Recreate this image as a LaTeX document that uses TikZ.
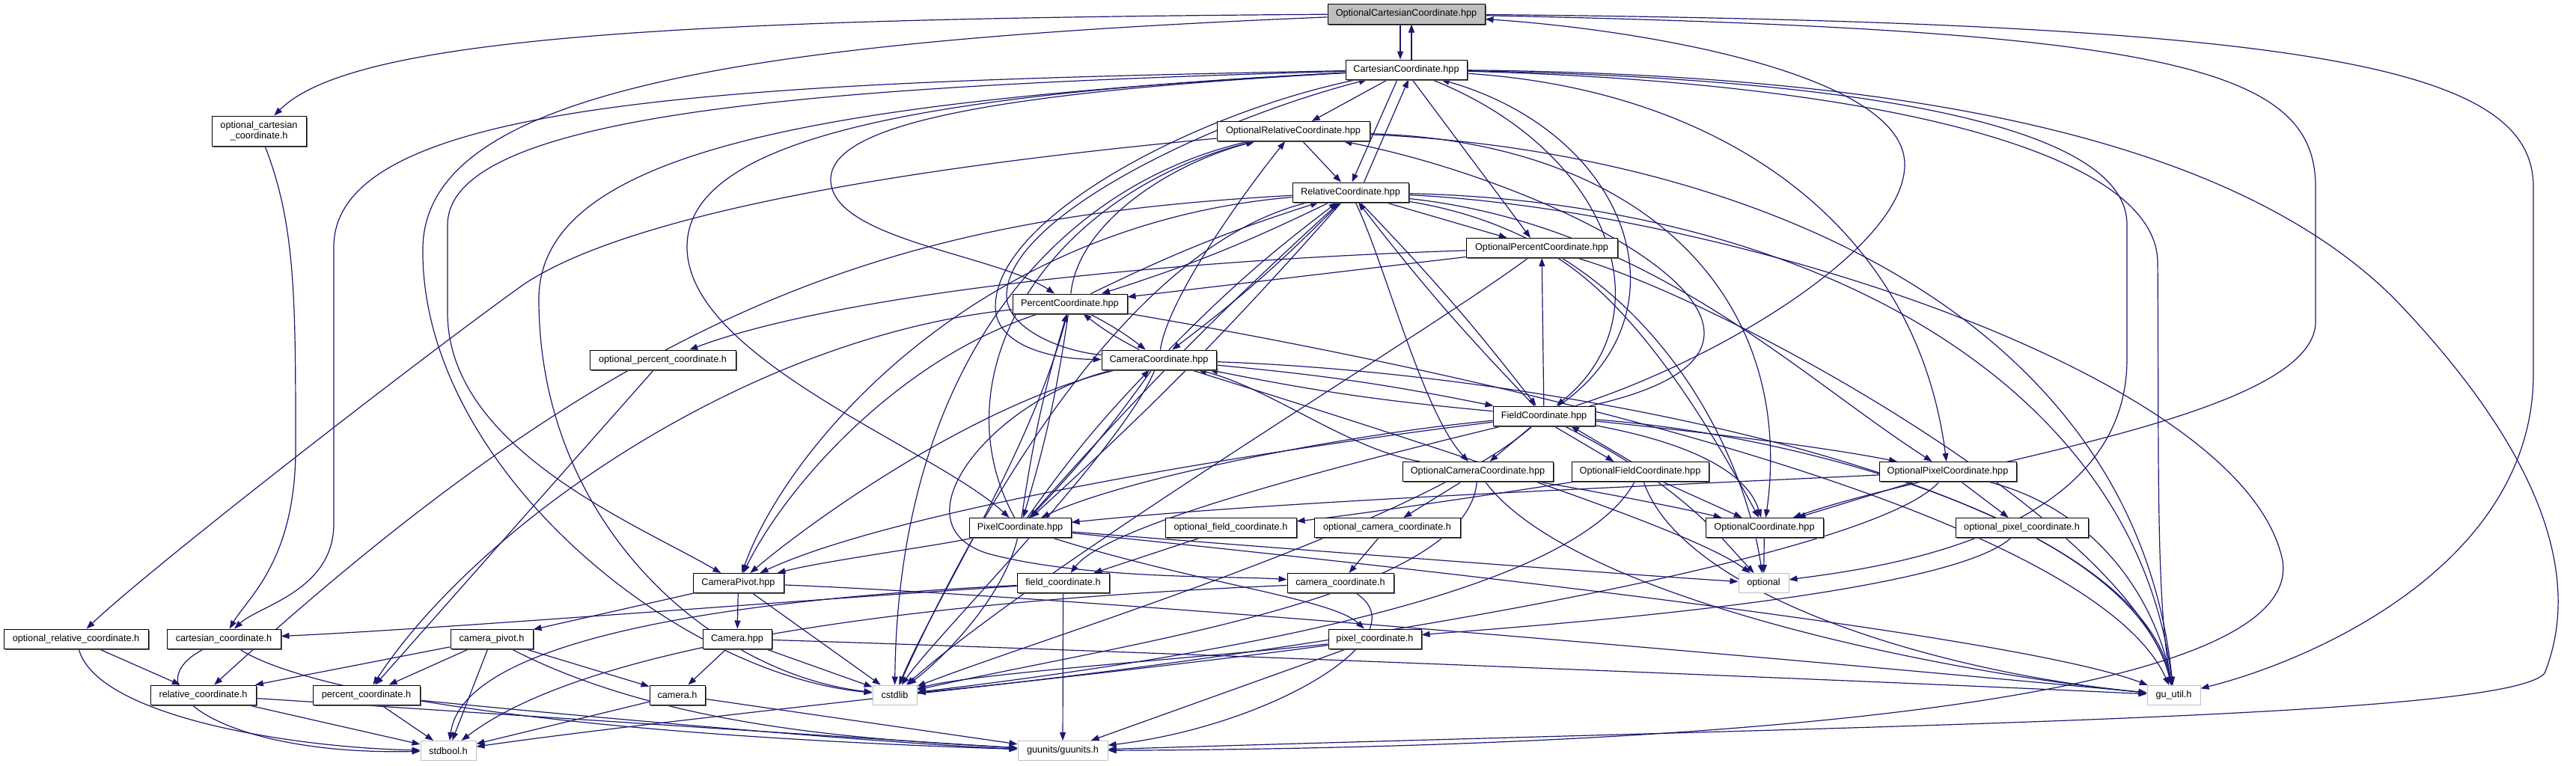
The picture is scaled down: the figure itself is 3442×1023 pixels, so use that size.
\documentclass[tikz,border=0pt]{standalone}
\usepackage{fontspec}
\newfontfamily\doxfont{Liberation Sans}
\usepackage{tikz}
\usetikzlibrary{arrows.meta,shadows,backgrounds}
\definecolor{depblue}{HTML}{191970}
\definecolor{sysgray}{HTML}{BFBFBF}
\definecolor{rootgray}{HTML}{BFBFBF}

\begin{document}
\begin{tikzpicture}[x=1pt, y=-1pt,
  hdr/.style={draw=black, line width=1pt, fill=white, minimum height=26pt, inner sep=0pt,
    font=\doxfont\fontsize{12.7}{14}\selectfont,
    drop shadow={shadow xshift=1.5pt, shadow yshift=-1.5pt, fill=black!60, opacity=1}},
  sys/.style={draw=sysgray, line width=1pt, fill=white, minimum height=26pt, inner sep=0pt,
    font=\doxfont\fontsize{12.7}{14}\selectfont},
  rootnode/.style={hdr, fill=rootgray},
  dep/.style={draw=depblue, line width=1.2pt, -{Triangle[length=11pt,width=8pt]}}]
\useasboundingbox (0,0) rectangle (3442,1023);

\node[rootnode, minimum width=210pt, minimum height=27pt] (root) at (1879,18.5) {OptionalCartesianCoordinate.hpp};
\node[hdr, minimum width=162pt] (cart) at (1879,93) {CartesianCoordinate.hpp};
\node[hdr, minimum width=204pt] (optrel) at (1728,175.5) {OptionalRelativeCoordinate.hpp};
\node[hdr, minimum width=155pt] (rel) at (1804.5,257) {RelativeCoordinate.hpp};
\node[hdr, minimum width=202pt] (optpct) at (2060,331.5) {OptionalPercentCoordinate.hpp};
\node[hdr, minimum width=153pt] (pct) at (1429.5,406) {PercentCoordinate.hpp};
\node[hdr, minimum width=153pt] (cam) at (1548.5,481) {CameraCoordinate.hpp};
\node[hdr, minimum width=136pt] (field) at (2063,556) {FieldCoordinate.hpp};
\node[hdr, minimum width=201pt] (optcam) at (1974.5,630.5) {OptionalCameraCoordinate.hpp};
\node[hdr, minimum width=183pt] (optfield) at (2191.5,630.5) {OptionalFieldCoordinate.hpp};
\node[hdr, minimum width=183pt] (optpix) at (2602.5,630.5) {OptionalPixelCoordinate.hpp};
\node[hdr, minimum width=136pt] (pix) at (1363,705.5) {PixelCoordinate.hpp};
\node[hdr, minimum width=175pt] (optfieldh) at (1644.5,705.5) {optional\_field\_coordinate.h};
\node[hdr, minimum width=195pt] (optcamh) at (1853.5,705.5) {optional\_camera\_coordinate.h};
\node[hdr, minimum width=157pt] (optcoord) at (2357.5,705.5) {OptionalCoordinate.hpp};
\node[hdr, minimum width=177pt] (optpixh) at (2701.5,705.5) {optional\_pixel\_coordinate.h};
\node[hdr, minimum width=123pt] (fieldh) at (1420.5,779.5) {field\_coordinate.h};
\node[hdr, minimum width=142pt] (camh) at (1791,779.5) {camera\_coordinate.h};
\node[sys, minimum width=67pt] (optional) at (2356.5,779.5) {optional};
\node[hdr, minimum width=121pt] (campiv) at (986.5,779.5) {CameraPivot.hpp};
\node[hdr, minimum width=193pt] (optrelh) at (101.5,854) {optional\_relative\_coordinate.h};
\node[hdr, minimum width=152pt] (carth) at (299,854) {cartesian\_coordinate.h};
\node[hdr, minimum width=110pt] (campivh) at (657,854) {camera\_pivot.h};
\node[hdr, minimum width=92pt] (camhpp) at (985,854) {Camera.hpp};
\node[hdr, minimum width=124pt] (pixh) at (1837,854) {pixel\_coordinate.h};
\node[hdr, minimum width=141pt] (relh) at (271.5,929) {relative\_coordinate.h};
\node[hdr, minimum width=143pt] (pcth) at (489.5,929) {percent\_coordinate.h};
\node[hdr, minimum width=74pt] (camerah) at (905,929) {camera.h};
\node[sys, minimum width=59pt] (cstdlib) at (1195.5,929) {cstdlib};
\node[sys, minimum width=71pt] (guutil) at (2904.5,929.5) {gu\_util.h};
\node[sys, minimum width=120pt] (gunits) at (1420,1003.5) {guunits/guunits.h};
\node[sys, minimum width=74pt] (stdbool) at (599,1003.5) {stdbool.h};
\node[hdr, minimum width=126pt, minimum height=40pt, align=center] (occh) at (346,175) {optional\_cartesian\\\_coordinate.h};
\node[hdr, minimum width=195pt] (optpcth) at (885.5,481) {optional\_percent\_coordinate.h};

\begin{scope}[on background layer]
% OptionalCartesianCoordinate.hpp
\draw[dep] ([xshift=-8pt]root.south) -- ([xshift=-8pt]cart.north);
\draw[dep] ([xshift=7pt]cart.north) -- ([xshift=7pt]root.south);
\draw[dep] (root) .. controls (900,25) and (470,50) .. (occh);
\draw[dep] (root) .. controls (1000,55) and (570,120) .. (565,330) .. controls (560,620) and (900,900) .. (cstdlib);
\draw[dep] (root) .. controls (2900,40) and (3094,90) .. (3094,250) -- (3094,430) .. controls (3094,560) and (2600,620) .. (optcoord);
\draw[dep] (root) .. controls (3100,30) and (3385,90) .. (3385,250) -- (3385,500) .. controls (3385,750) and (3100,880) .. (guutil);
\draw[dep] (field) .. controls (2300,480) and (2545,330) .. (2545,220) .. controls (2545,100) and (2200,40) .. (root);
% CartesianCoordinate.hpp
\draw[dep] (cart) -- (optrel);
\draw[dep] ([xshift=-12pt]cart.south) -- ([xshift=2pt]rel.north);
\draw[dep] ([xshift=18pt]rel.north) -- ([xshift=3pt]cart.south);
\draw[dep] ([xshift=8pt]cart.south) -- ([xshift=-15pt]optpct.north);
\draw[dep] (cart) .. controls (1000,110) and (446,130) .. (446,330) -- (446,700) .. controls (446,790) and (345,810) .. (carth);
\draw[dep] (cart) .. controls (1100,115) and (600,150) .. (598,300) -- (598,420) .. controls (600,600) and (850,700) .. (campiv);
\draw[dep] (cart) .. controls (1300,125) and (1110,170) .. (1110,240) .. controls (1110,320) and (1330,340) .. (pct);
\draw[dep] (cart) .. controls (1250,125) and (918,180) .. (918,330) .. controls (918,480) and (1250,600) .. (pix);
\draw[dep] (cart) .. controls (1600,150) and (1330,290) .. (1330,410) .. controls (1330,460) and (1400,480) .. (cam);
\draw[dep] (cam) .. controls (1420,470) and (1345,440) .. (1345,395) .. controls (1345,290) and (1620,160) .. (cart);
\draw[dep] (cart) .. controls (2150,200) and (2230,420) .. (field);
\draw[dep] (field) .. controls (2260,420) and (2180,180) .. (cart);
\draw[dep] (cart) .. controls (2500,105) and (2842,170) .. (2842,300) -- (2842,480) .. controls (2842,720) and (2500,760) .. (optional);
\draw[dep] (cart) .. controls (2500,110) and (2880,200) .. (2883,350) .. controls (2885,600) and (2880,800) .. (guutil);
\draw[dep] (cart) .. controls (2600,100) and (3000,200) .. (3200,400) .. controls (3430,640) and (3440,800) .. (3400,900) .. controls (3350,960) and (2500,970) .. (gunits);
\draw[dep] (cart) .. controls (1100,135) and (720,200) .. (720,400) .. controls (720,700) and (950,900) .. (cstdlib);
\draw[dep] (cart) .. controls (2300,120) and (2560,300) .. (optpix);
% OptionalRelativeCoordinate.hpp
\draw[dep] (optrel) -- (rel);
\draw[dep] (optrel) .. controls (1250,220) and (850,280) .. (700,380) .. controls (560,480) and (200,760) .. (optrelh);
\draw[dep] (pct) .. controls (1440,300) and (1560,220) .. (optrel);
\draw[dep] (cam) .. controls (1560,400) and (1660,260) .. (optrel);
\draw[dep] (pix) .. controls (1250,500) and (1400,260) .. (optrel);
\draw[dep] (field) .. controls (2500,460) and (2100,250) .. (optrel);
\draw[dep] (optrel) .. controls (2300,200) and (2850,400) .. (guutil);
\draw[dep] (optrel) .. controls (2200,190) and (2400,400) .. (optcoord);
\draw[dep] (optrel) .. controls (1400,250) and (1200,500) .. (cstdlib);
% RelativeCoordinate.hpp
\draw[dep] (rel) -- (optpct);
\draw[dep] (rel) to[bend left=4] (pct);
\draw[dep] (pct) to[bend left=4] (rel);
\draw[dep] (rel) to[bend left=4] (cam);
\draw[dep] (cam) to[bend left=4] (rel);
\draw[dep] (rel) to[bend left=3] (pix);
\draw[dep] (pix) to[bend left=3] (rel);
\draw[dep] (field) to[bend left=3] (rel);
\draw[dep] (rel) to[bend left=3] (field);
\draw[dep] (rel) .. controls (1200,290) and (850,400) .. (relh);
\draw[dep] (rel) .. controls (1300,300) and (1050,600) .. (campiv);
\draw[dep] (rel) .. controls (1500,330) and (1300,700) .. (cstdlib);
\draw[dep] (rel) .. controls (2400,270) and (2850,500) .. (guutil);
\draw[dep] (rel) .. controls (2300,280) and (3000,500) .. (3050,750) .. controls (3080,950) and (2200,1000) .. (gunits);
\draw[dep] (rel) .. controls (2200,320) and (2330,600) .. (optional);
\draw[dep] (rel) .. controls (2200,300) and (2400,500) .. (optpix);
\draw[dep] (rel) .. controls (1850,350) and (1900,550) .. (optcam);
% OptionalPercentCoordinate.hpp
\draw[dep] (optpct) -- (pct);
\draw[dep] (optpct) .. controls (1500,350) and (1100,400) .. (optpcth);
\draw[dep] (optpct) .. controls (2200,420) and (2300,600) .. (optcoord);
\draw[dep] (optpct) .. controls (2300,400) and (2850,700) .. (guutil);
\draw[dep] (optpct) .. controls (1900,450) and (1400,750) .. (cstdlib);
\draw[dep] (field) -- (optpct);
% PercentCoordinate.hpp
\draw[dep] (pct) to[bend left=5] (cam);
\draw[dep] (cam) to[bend left=5] (pct);
\draw[dep] (pct) to[bend left=4] (pix);
\draw[dep] (pix) to[bend left=4] (pct);
\draw[dep] (pct) .. controls (1000,450) and (640,700) .. (pcth);
\draw[dep] (pct) .. controls (1200,480) and (1050,650) .. (campiv);
\draw[dep] (pct) .. controls (1380,600) and (1250,800) .. (cstdlib);
\draw[dep] (pct) .. controls (2100,520) and (2800,700) .. (guutil);
% CameraCoordinate.hpp
\draw[dep] (cam) to[bend left=4] (pix);
\draw[dep] (pix) to[bend left=4] (cam);
\draw[dep] (cam) to[bend left=3] (field);
\draw[dep] (field) to[bend left=3] (cam);
\draw[dep] (cam) .. controls (1330,530) and (1190,700) .. (1320,740) .. controls (1450,775) and (1650,770) .. (camh);
\draw[dep] (cam) .. controls (1300,540) and (1080,700) .. (campiv);
\draw[dep] (cam) .. controls (1500,600) and (1250,850) .. (cstdlib);
\draw[dep] (cam) .. controls (2100,500) and (2850,650) .. (guutil);
\draw[dep] (cam) .. controls (1800,560) and (2250,700) .. (optional);
\draw[dep] (optcam) .. controls (1800,600) and (1700,520) .. (cam);
% FieldCoordinate.hpp
\draw[dep] (field) -- (optcam);
\draw[dep] ([xshift=13pt]field.south) -- ([xshift=-35pt]optfield.north);
\draw[dep] ([xshift=-12pt]optfield.north) -- ([xshift=36pt]field.south);
\draw[dep] (field) .. controls (2300,580) and (2450,600) .. (optpix);
\draw[dep] (field) .. controls (1800,580) and (1500,640) .. (pix);
\draw[dep] (field) .. controls (1700,600) and (1200,680) .. (campiv);
\draw[dep] (field) .. controls (1800,620) and (1480,700) .. (fieldh);
\draw[dep] (field) .. controls (2250,650) and (2300,720) .. (optional);
\draw[dep] (field) .. controls (2400,580) and (2850,700) .. (guutil);
\draw[dep] (field) .. controls (1900,700) and (1400,850) .. (cstdlib);
\draw[dep] (field) .. controls (2300,600) and (2340,650) .. (optcoord);
% optional wrappers
\draw[dep] (optcam) -- (optcamh);
\draw[dep] (optcam) .. controls (2150,660) and (2250,680) .. (optcoord);
\draw[dep] (optcam) .. controls (1960,800) and (1500,860) .. (cstdlib);
\draw[dep] (optcam) .. controls (2100,800) and (2600,900) .. (guutil);
\draw[dep] (optfield) .. controls (2000,660) and (1800,690) .. (optfieldh);
\draw[dep] (optfield) -- (optcoord);
\draw[dep] (optfield) .. controls (2100,800) and (1600,880) .. (cstdlib);
\draw[dep] (optfield) .. controls (2250,800) and (2600,900) .. (guutil);
\draw[dep] (optpix) -- (optpixh);
\draw[dep] (optpix) -- (optcoord);
\draw[dep] (optpix) .. controls (2200,650) and (1700,670) .. (pix);
\draw[dep] (optpix) .. controls (2500,750) and (1700,880) .. (cstdlib);
\draw[dep] (optpix) .. controls (2800,680) and (2880,800) .. (guutil);
% PixelCoordinate.hpp
\draw[dep] (pix) .. controls (1600,780) and (1780,800) .. (pixh);
\draw[dep] (pix) .. controls (1250,730) and (1100,750) .. (campiv);
\draw[dep] (pix) .. controls (1340,800) and (1260,880) .. (cstdlib);
\draw[dep] (pix) .. controls (1900,760) and (2700,850) .. (guutil);
\draw[dep] (pix) .. controls (1800,740) and (2200,770) .. (optional);
% CameraPivot.hpp, Camera.hpp
\draw[dep] (campiv) -- (campivh);
\draw[dep] (campiv) -- (camhpp);
\draw[dep] (campiv) -- (cstdlib);
\draw[dep] (campiv) .. controls (1500,800) and (2600,900) .. (guutil);
\draw[dep] (camhpp) -- (camerah);
\draw[dep] (camhpp) -- (cstdlib);
\draw[dep] (camhpp) .. controls (1500,870) and (2500,910) .. (guutil);
% C headers
\draw[dep] (campivh) -- (relh);
\draw[dep] (campivh) -- (pcth);
\draw[dep] (campivh) -- (stdbool);
\draw[dep] (campivh) -- (camerah);
\draw[dep] (campivh) .. controls (900,980) and (1200,990) .. (gunits);
\draw[dep] (camerah) -- (stdbool);
\draw[dep] (camerah) -- (gunits);
\draw[dep] (relh) -- (stdbool);
\draw[dep] (relh) .. controls (600,950) and (1200,990) .. (gunits);
\draw[dep] (pcth) -- (stdbool);
\draw[dep] (pcth) .. controls (800,960) and (1200,995) .. (gunits);
\draw[dep] (carth) .. controls (170,920) and (300,1010) .. (stdbool);
\draw[dep] (carth) .. controls (400,920) and (700,980) .. (gunits);
\draw[dep] (occh) .. controls (395,300) and (395,400) .. (395,600) .. controls (395,750) and (330,800) .. (carth);
\draw[dep] (optrelh) -- (relh);
\draw[dep] (optrelh) .. controls (130,960) and (400,1000) .. (stdbool);
\draw[dep] (optpcth) -- (pcth);
\draw[dep] (optfieldh) -- (fieldh);
\draw[dep] (optcamh) -- (camh);
\draw[dep] (optpixh) .. controls (2600,800) and (2000,840) .. (pixh);
\draw[dep] (fieldh) .. controls (1100,800) and (600,840) .. (carth);
\draw[dep] (fieldh) .. controls (1000,800) and (620,850) .. (stdbool);
\draw[dep] (fieldh) -- (gunits);
\draw[dep] (camh) .. controls (1300,800) and (800,850) .. (stdbool);
\draw[dep] (camh) .. controls (1900,850) and (1700,970) .. (gunits);
\draw[dep] (pixh) -- (gunits);
\draw[dep] (pixh) .. controls (1500,900) and (900,960) .. (stdbool);
\draw[dep] (pixh) .. controls (1600,880) and (1300,900) .. (cstdlib);
\draw[dep] (optcoord) -- (optional);
\end{scope}
\end{tikzpicture}
\end{document}
